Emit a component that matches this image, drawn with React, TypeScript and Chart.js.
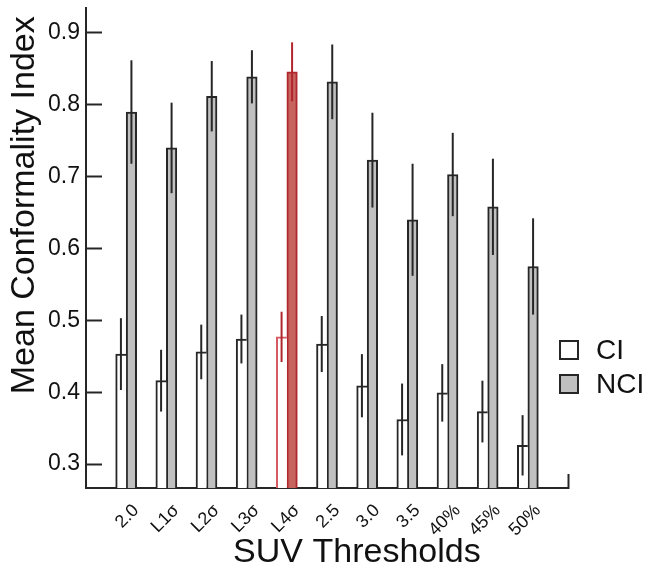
import React, { useEffect, useRef } from 'react';
import { Chart, registerables } from 'chart.js';

Chart.register(...registerables);

// ---- data ----
const categories = ['2.0', 'L1σ', 'L2σ', 'L3σ', 'L4σ', '2.5', '3.0', '3.5', '40%', '45%', '50%'];
const ciMeans = [0.453, 0.416, 0.456, 0.474, 0.477, 0.467, 0.409, 0.362, 0.399, 0.373, 0.326];
const ciErrors = [0.05, 0.043, 0.038, 0.034, 0.035, 0.039, 0.044, 0.05, 0.04, 0.043, 0.042];
const nciMeans = [0.79, 0.74, 0.812, 0.839, 0.846, 0.832, 0.723, 0.64, 0.703, 0.658, 0.575];
const nciErrors = [0.072, 0.063, 0.049, 0.037, 0.041, 0.052, 0.066, 0.078, 0.058, 0.067, 0.067];
const yTickValues = [0.3, 0.4, 0.5, 0.6, 0.7, 0.8, 0.9];
const highlighted = 'L4σ';
const seriesLabels = ['CI', 'NCI'];
const xTitle = 'SUV Thresholds';
const yTitle = 'Mean Conformality Index';

// ---- styles ----
const FONT = '"Liberation Sans", Arial, Helvetica, sans-serif';
const INK = '#262626';
const GRAY = '#c0c0c0';
const RED_FILL = '#c6645d';
const RED_EDGE = '#b1262c';
const RED_LIGHT = '#d65a62';

// padded category axis: one empty slot on each side
const axisLabels = ['', ...categories, ''];
const pad = (arr: number[]) => [null, ...arr, null];
const isHi = (i: number) => axisLabels[i] === highlighted;

const errorBarPlugin = {
  id: 'errorBars',
  afterDatasetsDraw(chart: any) {
    const { ctx } = chart;
    const y = chart.scales.y;
    chart.data.datasets.forEach((ds: any, i: number) => {
      const meta = chart.getDatasetMeta(i);
      meta.data.forEach((bar: any, j: number) => {
        const v = ds.data[j];
        const e = ds.errors ? ds.errors[j] : null;
        if (v == null || e == null) return;
        const top = y.getPixelForValue(v + e);
        const bot = y.getPixelForValue(v - e);
        ctx.save();
        ctx.strokeStyle = isHi(j) ? RED_EDGE : INK;
        ctx.lineWidth = 2;
        ctx.beginPath();
        ctx.moveTo(bar.x, top);
        ctx.lineTo(bar.x, bot);
        ctx.stroke();
        ctx.restore();
      });
    });
  },
};

const decorPlugin = {
  id: 'decor',
  afterDraw(chart: any) {
    const { ctx, chartArea: ca } = chart;
    const w = ca.right - ca.left;
    const h = ca.bottom - ca.top;
    ctx.save();
    ctx.fillStyle = '#111';
    // x title
    ctx.font = `34px ${FONT}`;
    ctx.textAlign = 'center';
    ctx.textBaseline = 'alphabetic';
    ctx.fillText(xTitle, ca.left + w * 0.562, ca.bottom + 74);
    // y title
    ctx.save();
    ctx.translate(34, ca.top + h * 0.411);
    ctx.rotate(-Math.PI / 2);
    ctx.fillText(yTitle, 0, 0);
    ctx.restore();
    // legend
    chart.data.datasets.forEach((ds: any, i: number) => {
      const bx = ca.right - 9;
      const by = ca.top + 332 + i * 34;
      ctx.fillStyle = ds.legendFill;
      ctx.fillRect(bx, by, 20, 20);
      ctx.strokeStyle = INK;
      ctx.lineWidth = 2;
      ctx.strokeRect(bx + 1, by + 1, 18, 18);
      ctx.fillStyle = '#111';
      ctx.font = `28px ${FONT}`;
      ctx.textAlign = 'left';
      ctx.textBaseline = 'middle';
      ctx.fillText(ds.label, bx + 37, by + 11);
    });
    ctx.restore();
  },
};

export default function App() {
  const ref = useRef<HTMLCanvasElement | null>(null);

  useEffect(() => {
    if (!ref.current) return;
    const chart = new Chart(ref.current, {
      type: 'bar',
      data: {
        labels: axisLabels,
        datasets: [
          {
            label: seriesLabels[0],
            data: pad(ciMeans),
            errors: pad(ciErrors),
            legendFill: '#ffffff',
            backgroundColor: '#ffffff',
            borderColor: (c: any) => (isHi(c.dataIndex) ? RED_LIGHT : INK),
            borderWidth: 2,
            borderSkipped: 'right',
            barThickness: 10.5,
          } as any,
          {
            label: seriesLabels[1],
            data: pad(nciMeans),
            errors: pad(nciErrors),
            legendFill: GRAY,
            backgroundColor: (c: any) => (isHi(c.dataIndex) ? RED_FILL : GRAY),
            borderColor: (c: any) => (isHi(c.dataIndex) ? RED_EDGE : INK),
            borderWidth: 2,
            borderSkipped: 'start',
            barThickness: 10.5,
          } as any,
        ],
      },
      options: {
        animation: false,
        responsive: false,
        maintainAspectRatio: false,
        layout: { padding: { left: 0, right: 81, top: 8, bottom: 0 } },
        plugins: {
          legend: { display: false },
          tooltip: { enabled: false },
        },
        scales: {
          x: {
            type: 'category',
            offset: false,
            grid: {
              offset: false,
              drawOnChartArea: false,
              drawTicks: true,
              tickLength: -14,
              tickWidth: 2,
              tickColor: (c: any) => (c.index === axisLabels.length - 1 ? INK : 'rgba(0,0,0,0)'),
            },
            border: { display: true, color: INK, width: 2 },
            ticks: {
              autoSkip: false,
              minRotation: 45,
              maxRotation: 45,
              labelOffset: 10,
              padding: 26,
              color: '#111',
              font: { family: FONT, size: 18 },
            },
            afterFit: (s: any) => {
              s.height = 85;
              s.paddingLeft = 0;
              s.paddingRight = 0;
            },
          },
          y: {
            type: 'linear',
            min: 0.2666,
            max: 0.9348,
            grid: {
              drawOnChartArea: false,
              drawTicks: true,
              tickLength: -16,
              tickWidth: 2,
              tickColor: INK,
            },
            border: { display: true, color: INK, width: 2 },
            ticks: {
              padding: 22,
              color: '#111',
              font: { family: FONT, size: 23 },
              callback: (v: any) => Number(v).toFixed(1),
            },
            afterBuildTicks: (s: any) => {
              s.ticks = yTickValues.map((v) => ({ value: v }));
            },
            afterFit: (s: any) => {
              s.width = 86;
              s.paddingTop = 0;
              s.paddingBottom = 0;
            },
          },
        },
      },
      plugins: [errorBarPlugin, decorPlugin],
    } as any);
    return () => chart.destroy();
  }, []);

  return (
    <div style={{ position: 'absolute', left: 0, top: 0, width: 649, height: 573, background: '#fff' }}>
      <canvas ref={ref} width={649} height={573} style={{ display: 'block', width: 649, height: 573 }} />
    </div>
  );
}
